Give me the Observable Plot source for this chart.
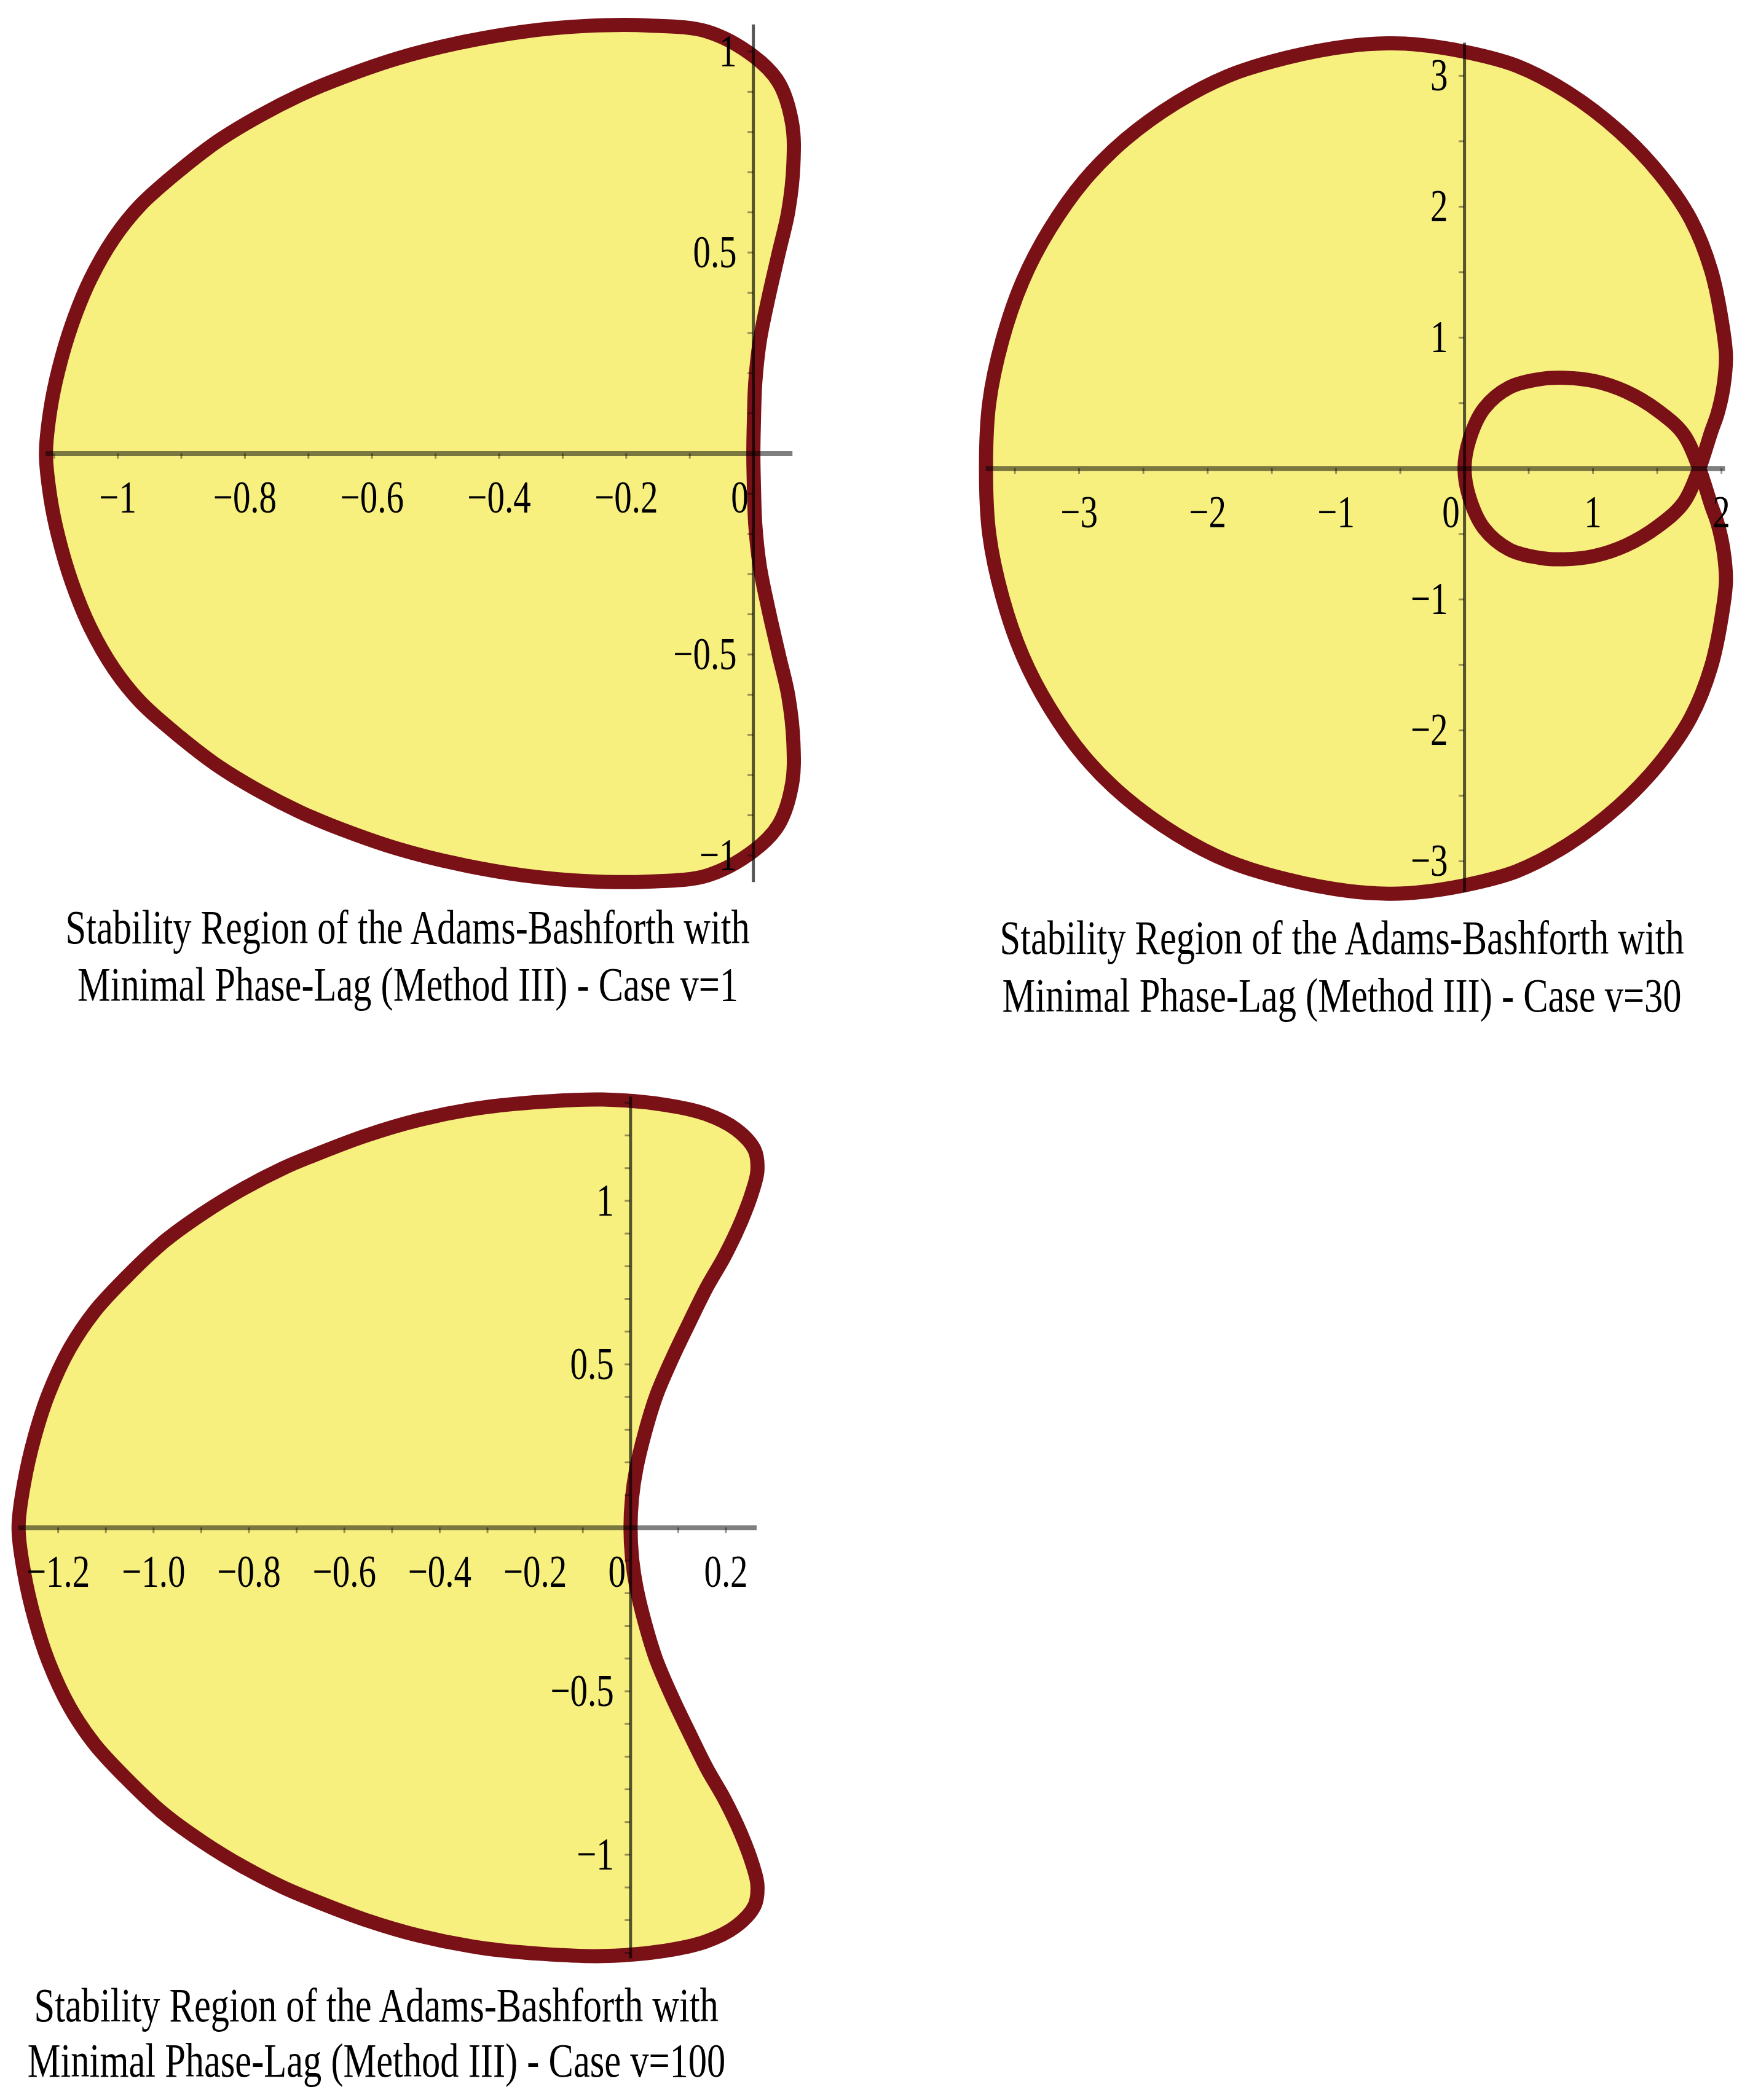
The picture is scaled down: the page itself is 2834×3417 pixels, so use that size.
<!DOCTYPE html>
<html><head><meta charset="utf-8">
<script src="https://cdn.jsdelivr.net/npm/d3@7"></script>
<script src="https://cdn.jsdelivr.net/npm/@observablehq/plot@0.6"></script>
<style>
html,body{margin:0;padding:0;background:#fff;}
#page{position:relative;width:2834px;height:3417px;overflow:hidden;background:#fff;}
.panel{position:absolute;}
.cap{position:absolute;width:2000px;text-align:center;font-family:"Liberation Serif","Times New Roman",serif;font-size:78px;line-height:93px;color:#000;white-space:nowrap;}
.cap span{display:inline-block;transform:scaleX(0.775);transform-origin:center;}
</style></head><body><div id="page"></div>
<script>
// ---------- Panel 1 : case v=1 ----------
const v1X = [-1.113,-1.106,-1.093,-1.072,-1.043,-1.006,-0.965,-0.903,-0.840,-0.776,-0.713,-0.664,-0.562,-0.462,-0.360,-0.262,-0.165,-0.073,0.000,0.040,0.061,0.063,0.055,0.040,0.023,0.010,0.003,0.001,0,
  0.001,0.003,0.010,0.023,0.040,0.055,0.063,0.061,0.040,0.000,-0.073,-0.165,-0.262,-0.360,-0.462,-0.562,-0.664,-0.713,-0.776,-0.840,-0.903,-0.965,-1.006,-1.043,-1.072,-1.093,-1.106];
const v1Y = [0,0.11,0.21,0.322,0.434,0.536,0.617,0.704,0.780,0.841,0.892,0.925,0.982,1.022,1.050,1.064,1.065,1.050,0.989,0.923,0.821,0.719,0.603,0.500,0.382,0.279,0.176,0.088,0,
  -0.088,-0.176,-0.279,-0.382,-0.500,-0.603,-0.719,-0.821,-0.923,-0.989,-1.050,-1.065,-1.064,-1.050,-1.022,-0.982,-0.925,-0.892,-0.841,-0.780,-0.704,-0.617,-0.536,-0.434,-0.322,-0.21,-0.11];
const v1XTicks = [-1,-0.8,-0.6,-0.4,-0.2];
const v1XTickLabels = ["\u22121","\u22120.8","\u22120.6","\u22120.4","\u22120.2"];
const v1YTicks = [1,0.5,-0.5,-1];
const v1YTickLabels = ["1","0.5","\u22120.5","\u22121"];
const v1XMinor = [-1.1,-1,-0.9,-0.8,-0.7,-0.6,-0.5,-0.4,-0.3,-0.2,-0.1];
const v1YMinor = [-1,-0.9,-0.8,-0.7,-0.6,-0.5,-0.4,-0.3,-0.2,-0.1,0.1,0.2,0.3,0.4,0.5,0.6,0.7,0.8,0.9,1];
const v1AxisX = [-1.113,0.062];
const v1AxisY = [-1.067,1.067];

// ---------- Panel 2 : case v=30 ----------
const v30X = [-3.725,-3.70,-3.598,-3.439,-3.231,-2.960,-2.641,-2.243,-1.844,-1.381,-0.90,-0.60,-0.392,-0.01,0.405,0.804,1.202,1.522,1.761,1.920,2.016,2.035,2.015,1.97,1.92,1.827,
  1.703,1.505,1.257,1.01,0.779,0.597,0.35,0.152,0.036,0.0,0.036,0.152,0.35,0.597,0.779,1.01,1.257,1.505,1.703,1.827,
  1.92,1.97,2.015,2.035,2.016,1.920,1.761,1.522,1.202,0.804,0.405,-0.01,-0.392,-0.60,-0.90,-1.381,-1.844,-2.243,-2.641,-2.960,-3.231,-3.439,-3.598,-3.70];
const v30Y = [0,0.50,0.98,1.433,1.825,2.200,2.513,2.795,2.998,3.139,3.228,3.248,3.241,3.186,3.077,2.873,2.576,2.247,1.903,1.512,1.042,0.85,0.62,0.42,0.28,0,
  -0.264,-0.442,-0.587,-0.668,-0.693,-0.684,-0.62,-0.458,-0.215,0,0.215,0.458,0.62,0.684,0.693,0.668,0.587,0.442,0.264,0,
  -0.28,-0.42,-0.62,-0.85,-1.042,-1.512,-1.903,-2.247,-2.576,-2.873,-3.077,-3.186,-3.241,-3.248,-3.228,-3.139,-2.998,-2.795,-2.513,-2.200,-1.825,-1.433,-0.98,-0.50];
const v30XTicks = [-3,-2,-1,1,2];
const v30XTickLabels = ["\u22123","\u22122","\u22121","1","2"];
const v30YTicks = [3,2,1,-1,-2,-3];
const v30YTickLabels = ["3","2","1","\u22121","\u22122","\u22123"];
const v30XMinor = [-3.5,-3,-2.5,-2,-1.5,-1,-0.5,0.5,1,1.5,2];
const v30YMinor = [-3,-2.5,-2,-1.5,-1,-0.5,0.5,1,1.5,2,2.5,3];
const v30AxisX = [-3.725,2.03];
const v30AxisY = [-3.24,3.25];

// ---------- Panel 3 : case v=100 ----------
const v100X = [-1.283,-1.271,-1.249,-1.220,-1.176,-1.124,-1.061,-0.979,-0.896,-0.812,-0.728,-0.668,-0.556,-0.442,-0.316,-0.187,-0.058,0.071,0.157,0.221,0.260,0.266,0.256,0.232,0.197,0.160,0.122,0.087,0.054,0.030,0.012,0.003,0,
  0.003,0.012,0.030,0.054,0.087,0.122,0.160,0.197,0.232,0.256,0.266,0.260,0.221,0.157,0.071,-0.058,-0.187,-0.316,-0.442,-0.556,-0.668,-0.728,-0.812,-0.896,-0.979,-1.061,-1.124,-1.176,-1.220,-1.249,-1.271];
const v100Y = [0,0.14,0.28,0.41,0.548,0.661,0.761,0.874,0.962,1.037,1.100,1.137,1.199,1.248,1.284,1.303,1.310,1.294,1.266,1.219,1.156,1.093,1.031,0.937,0.830,0.736,0.624,0.517,0.404,0.29,0.18,0.09,0,
  -0.09,-0.18,-0.29,-0.404,-0.517,-0.624,-0.736,-0.830,-0.937,-1.031,-1.093,-1.156,-1.219,-1.266,-1.294,-1.310,-1.303,-1.284,-1.248,-1.199,-1.137,-1.100,-1.037,-0.962,-0.874,-0.761,-0.661,-0.548,-0.41,-0.28,-0.14];
const v100XTicks = [-1.2,-1.0,-0.8,-0.6,-0.4,-0.2,0.2];
const v100XTickLabels = ["\u22121.2","\u22121.0","\u22120.8","\u22120.6","\u22120.4","\u22120.2","0.2"];
const v100YTicks = [1,0.5,-0.5,-1];
const v100YTickLabels = ["1","0.5","\u22120.5","\u22121"];
const v100XMinor = [-1.2,-1.1,-1,-0.9,-0.8,-0.7,-0.6,-0.5,-0.4,-0.3,-0.2,-0.1,0.1,0.2];
const v100YMinor = [-1.3,-1.2,-1.1,-1,-0.9,-0.8,-0.7,-0.6,-0.5,-0.4,-0.3,-0.2,-0.1,0.1,0.2,0.3,0.4,0.5,0.6,0.7,0.8,0.9,1,1.1,1.2,1.3];
const v100AxisX = [-1.283,0.265];
const v100AxisY = [-1.318,1.318];

const captionLine1 = "Stability Region of the Adams-Bashforth with";
const captionLine2 = ["Minimal Phase-Lag (Method III) - Case v=1","Minimal Phase-Lag (Method III) - Case v=30","Minimal Phase-Lag (Method III) - Case v=100"];

// ---------- rendering ----------
const FILL = "#f7f07f", RED = "#7a1117", FONT = "Liberation Serif";
const page = document.getElementById("page");

function panel(cfg){
  const {ox, oy, kx, ky, xd, yd} = cfg;
  const width = (xd[1]-xd[0])*kx, height = (yd[1]-yd[0])*ky;
  const pts = cfg.xs.map((x,i)=>({x, y: cfg.ys[i]}));
  const xl = cfg.xt.map((v,i)=>({v, t: cfg.xtl[i]}));
  const yl = cfg.yt.map((v,i)=>({v, t: cfg.ytl[i]}));
  const txt = {fontFamily: FONT, fontSize: 74, fill: "#000", lineAnchor: "middle"};
  const svg = Plot.plot({
    width, height, marginTop:0, marginRight:0, marginBottom:0, marginLeft:0,
    x: {domain: xd, axis: null}, y: {domain: yd, axis: null},
    style: {background: "transparent", overflow: "visible", maxWidth: "none"},
    marks: [
      Plot.line(pts, {x:"x", y:"y", curve:"catmull-rom-closed", fill: FILL, stroke: RED, strokeWidth: 23, strokeLinejoin: "round"}),
      Plot.ruleX(cfg.mx, {x: d=>d, y1: ()=>0, y2: ()=>0, insetBottom: -9, stroke:"#000", strokeOpacity:0.4, strokeWidth:3}),
      Plot.ruleY(cfg.my, {y: d=>d, x1: ()=>0, x2: ()=>0, insetLeft: -9, stroke:"#000", strokeOpacity:0.4, strokeWidth:3}),
      Plot.ruleY([0], {y: d=>d, x1: ()=>cfg.ax[0], x2: ()=>cfg.ax[1], stroke:"#000", strokeOpacity:0.5, strokeWidth:8}),
      Plot.ruleX([0], {x: d=>d, y1: ()=>cfg.ay[0], y2: ()=>cfg.ay[1], stroke:"#000", strokeOpacity:0.65, strokeWidth:5}),
      Plot.text(xl, {x:"v", y: ()=>0, text:"t", dy: 72, textAnchor:"middle", ...txt}),
      Plot.text([0], {x: d=>d, y: ()=>0, text: ()=>"0", dx: -22, dy: 72, textAnchor:"middle", ...txt}),
      Plot.text(yl, {x: ()=>0, y:"v", text:"t", dx: -27, textAnchor:"end", ...txt})
    ]
  });
  svg.querySelectorAll("text").forEach(t=>{
    const tr = t.getAttribute("transform") || "";
    t.setAttribute("transform", tr + " scale(0.77,1)");
  });
  svg.classList.add("panel");
  svg.style.left = (ox + xd[0]*kx) + "px";
  svg.style.top = (oy - yd[1]*ky) + "px";
  svg.style.position = "absolute";
  page.appendChild(svg);
}

panel({ox:1225, oy:737, kx:1034, ky:654, xd:[-1.18,0.13], yd:[-1.12,1.12],
  xs:v1X, ys:v1Y, xt:v1XTicks, xtl:v1XTickLabels, yt:v1YTicks, ytl:v1YTickLabels, mx:v1XMinor, my:v1YMinor, ax:v1AxisX, ay:v1AxisY});
panel({ox:2382, oy:762, kx:209, ky:213, xd:[-3.9,2.15], yd:[-3.45,3.45],
  xs:v30X, ys:v30Y, xt:v30XTicks, xtl:v30XTickLabels, yt:v30YTicks, ytl:v30YTickLabels, mx:v30XMinor, my:v30YMinor, ax:v30AxisX, ay:v30AxisY});
panel({ox:1025, oy:2485, kx:776, ky:532, xd:[-1.32,0.35], yd:[-1.42,1.42],
  xs:v100X, ys:v100Y, xt:v100XTicks, xtl:v100XTickLabels, yt:v100YTicks, ytl:v100YTickLabels, mx:v100XMinor, my:v100YMinor, ax:v100AxisX, ay:v100AxisY});

function caption(cx, cy1, cy2, line2){
  [[captionLine1, cy1],[line2, cy2]].forEach(([s, cy])=>{
    const d = document.createElement("div");
    d.className = "cap";
    d.style.left = (cx - 1000) + "px";
    d.style.top = (cy - 47) + "px";
    const sp = document.createElement("span");
    sp.textContent = s;
    d.appendChild(sp);
    page.appendChild(d);
  });
}
caption(663, 1509, 1602, captionLine2[0]);
caption(2183, 1526, 1620, captionLine2[1]);
caption(612, 3263, 3353, captionLine2[2]);
</script></body></html>
